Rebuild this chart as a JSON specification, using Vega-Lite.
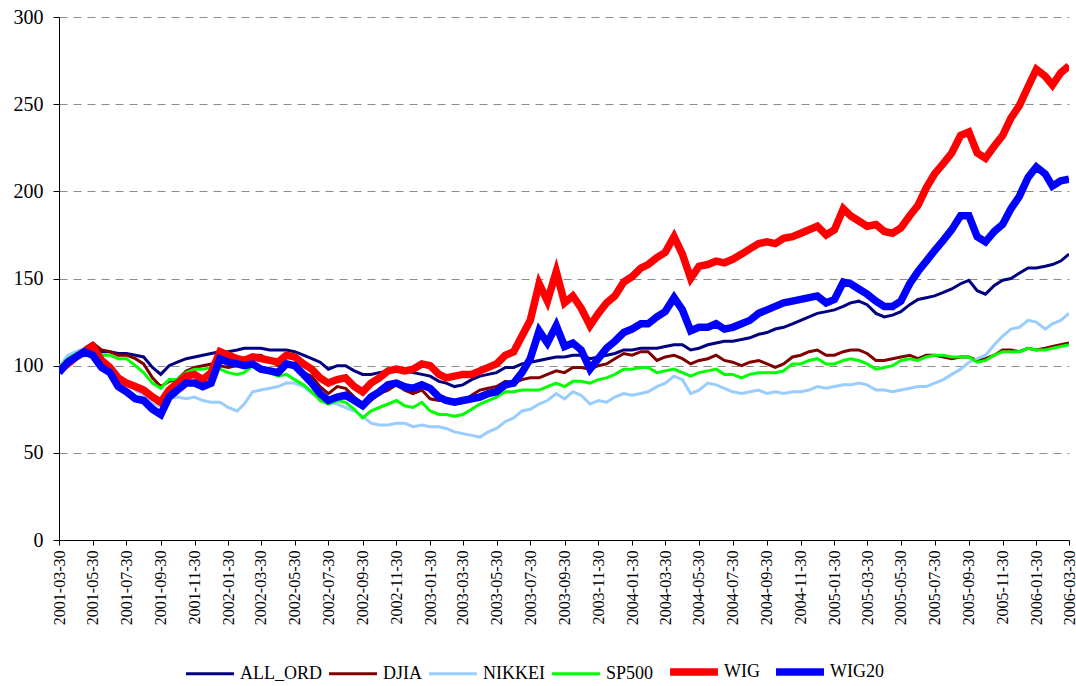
{
  "$schema": "https://vega.github.io/schema/vega-lite/v6.json",
  "width": 1010,
  "height": 523,
  "autosize": {"type": "none"},
  "padding": {"left": 59, "top": 17, "right": 7, "bottom": 146},
  "background": "white",
  "config": {
    "view": {"stroke": null},
    "font": "Liberation Serif, Times New Roman, serif"
  },
  "data": {
    "values": [
      {"date":"2001-03-30","ALL_ORD":99,"DJIA":99,"NIKKEI":99,"SP500":99,"WIG":97,"WIG20":96},
      {"date":"2001-04-15","ALL_ORD":104,"DJIA":104,"NIKKEI":106,"SP500":104,"WIG":101,"WIG20":102},
      {"date":"2001-04-30","ALL_ORD":107,"DJIA":106,"NIKKEI":108,"SP500":107,"WIG":105,"WIG20":105},
      {"date":"2001-05-15","ALL_ORD":109,"DJIA":110,"NIKKEI":110,"SP500":109,"WIG":108,"WIG20":108},
      {"date":"2001-05-30","ALL_ORD":110,"DJIA":113,"NIKKEI":106,"SP500":111,"WIG":111,"WIG20":106},
      {"date":"2001-06-15","ALL_ORD":108,"DJIA":109,"NIKKEI":103,"SP500":106,"WIG":103,"WIG20":99},
      {"date":"2001-06-30","ALL_ORD":108,"DJIA":108,"NIKKEI":99,"SP500":106,"WIG":99,"WIG20":96},
      {"date":"2001-07-15","ALL_ORD":107,"DJIA":106,"NIKKEI":92,"SP500":104,"WIG":93,"WIG20":88},
      {"date":"2001-07-30","ALL_ORD":107,"DJIA":106,"NIKKEI":91,"SP500":104,"WIG":90,"WIG20":85},
      {"date":"2001-08-15","ALL_ORD":106,"DJIA":104,"NIKKEI":86,"SP500":100,"WIG":88,"WIG20":81},
      {"date":"2001-08-30","ALL_ORD":105,"DJIA":101,"NIKKEI":83,"SP500":96,"WIG":86,"WIG20":80},
      {"date":"2001-09-15","ALL_ORD":99,"DJIA":93,"NIKKEI":78,"SP500":90,"WIG":82,"WIG20":75},
      {"date":"2001-09-30","ALL_ORD":95,"DJIA":88,"NIKKEI":77,"SP500":87,"WIG":79,"WIG20":72},
      {"date":"2001-10-15","ALL_ORD":100,"DJIA":91,"NIKKEI":81,"SP500":92,"WIG":86,"WIG20":82},
      {"date":"2001-10-30","ALL_ORD":102,"DJIA":92,"NIKKEI":82,"SP500":92,"WIG":90,"WIG20":86},
      {"date":"2001-11-15","ALL_ORD":104,"DJIA":97,"NIKKEI":81,"SP500":96,"WIG":94,"WIG20":90},
      {"date":"2001-11-30","ALL_ORD":105,"DJIA":99,"NIKKEI":82,"SP500":98,"WIG":95,"WIG20":90},
      {"date":"2001-12-15","ALL_ORD":106,"DJIA":100,"NIKKEI":80,"SP500":98,"WIG":92,"WIG20":88},
      {"date":"2001-12-30","ALL_ORD":107,"DJIA":101,"NIKKEI":79,"SP500":99,"WIG":96,"WIG20":90},
      {"date":"2002-01-15","ALL_ORD":108,"DJIA":100,"NIKKEI":79,"SP500":98,"WIG":108,"WIG20":104},
      {"date":"2002-01-30","ALL_ORD":108,"DJIA":99,"NIKKEI":76,"SP500":96,"WIG":106,"WIG20":102},
      {"date":"2002-02-15","ALL_ORD":109,"DJIA":100,"NIKKEI":74,"SP500":95,"WIG":104,"WIG20":101},
      {"date":"2002-02-28","ALL_ORD":110,"DJIA":102,"NIKKEI":78,"SP500":96,"WIG":103,"WIG20":100},
      {"date":"2002-03-15","ALL_ORD":110,"DJIA":106,"NIKKEI":85,"SP500":100,"WIG":105,"WIG20":101},
      {"date":"2002-03-30","ALL_ORD":110,"DJIA":106,"NIKKEI":86,"SP500":99,"WIG":104,"WIG20":98},
      {"date":"2002-04-15","ALL_ORD":109,"DJIA":103,"NIKKEI":87,"SP500":96,"WIG":103,"WIG20":97},
      {"date":"2002-04-30","ALL_ORD":109,"DJIA":100,"NIKKEI":88,"SP500":94,"WIG":102,"WIG20":96},
      {"date":"2002-05-15","ALL_ORD":109,"DJIA":102,"NIKKEI":90,"SP500":95,"WIG":106,"WIG20":101},
      {"date":"2002-05-30","ALL_ORD":108,"DJIA":100,"NIKKEI":90,"SP500":92,"WIG":105,"WIG20":100},
      {"date":"2002-06-15","ALL_ORD":106,"DJIA":96,"NIKKEI":88,"SP500":89,"WIG":101,"WIG20":95},
      {"date":"2002-06-30","ALL_ORD":104,"DJIA":94,"NIKKEI":84,"SP500":85,"WIG":98,"WIG20":90},
      {"date":"2002-07-15","ALL_ORD":102,"DJIA":88,"NIKKEI":82,"SP500":80,"WIG":93,"WIG20":84},
      {"date":"2002-07-30","ALL_ORD":98,"DJIA":84,"NIKKEI":79,"SP500":78,"WIG":90,"WIG20":80},
      {"date":"2002-08-15","ALL_ORD":100,"DJIA":88,"NIKKEI":78,"SP500":80,"WIG":92,"WIG20":82},
      {"date":"2002-08-30","ALL_ORD":100,"DJIA":87,"NIKKEI":76,"SP500":79,"WIG":93,"WIG20":83},
      {"date":"2002-09-15","ALL_ORD":97,"DJIA":82,"NIKKEI":74,"SP500":75,"WIG":88,"WIG20":80},
      {"date":"2002-09-30","ALL_ORD":95,"DJIA":78,"NIKKEI":71,"SP500":70,"WIG":85,"WIG20":77},
      {"date":"2002-10-15","ALL_ORD":95,"DJIA":80,"NIKKEI":67,"SP500":74,"WIG":90,"WIG20":82},
      {"date":"2002-10-30","ALL_ORD":96,"DJIA":84,"NIKKEI":66,"SP500":76,"WIG":93,"WIG20":85},
      {"date":"2002-11-15","ALL_ORD":97,"DJIA":86,"NIKKEI":66,"SP500":78,"WIG":97,"WIG20":89},
      {"date":"2002-11-30","ALL_ORD":99,"DJIA":89,"NIKKEI":67,"SP500":80,"WIG":98,"WIG20":90},
      {"date":"2002-12-15","ALL_ORD":97,"DJIA":86,"NIKKEI":67,"SP500":77,"WIG":97,"WIG20":88},
      {"date":"2002-12-30","ALL_ORD":96,"DJIA":84,"NIKKEI":65,"SP500":76,"WIG":98,"WIG20":87},
      {"date":"2003-01-15","ALL_ORD":95,"DJIA":86,"NIKKEI":66,"SP500":79,"WIG":101,"WIG20":89},
      {"date":"2003-01-30","ALL_ORD":94,"DJIA":81,"NIKKEI":65,"SP500":74,"WIG":100,"WIG20":87},
      {"date":"2003-02-15","ALL_ORD":91,"DJIA":80,"NIKKEI":65,"SP500":72,"WIG":95,"WIG20":82},
      {"date":"2003-02-28","ALL_ORD":90,"DJIA":80,"NIKKEI":64,"SP500":72,"WIG":93,"WIG20":80},
      {"date":"2003-03-15","ALL_ORD":88,"DJIA":78,"NIKKEI":62,"SP500":71,"WIG":94,"WIG20":79},
      {"date":"2003-03-30","ALL_ORD":89,"DJIA":79,"NIKKEI":61,"SP500":72,"WIG":95,"WIG20":80},
      {"date":"2003-04-15","ALL_ORD":92,"DJIA":83,"NIKKEI":60,"SP500":75,"WIG":95,"WIG20":81},
      {"date":"2003-04-30","ALL_ORD":94,"DJIA":86,"NIKKEI":59,"SP500":78,"WIG":97,"WIG20":82},
      {"date":"2003-05-15","ALL_ORD":95,"DJIA":87,"NIKKEI":62,"SP500":80,"WIG":99,"WIG20":84},
      {"date":"2003-05-30","ALL_ORD":96,"DJIA":88,"NIKKEI":64,"SP500":82,"WIG":101,"WIG20":85},
      {"date":"2003-06-15","ALL_ORD":99,"DJIA":91,"NIKKEI":68,"SP500":85,"WIG":106,"WIG20":89},
      {"date":"2003-06-30","ALL_ORD":99,"DJIA":90,"NIKKEI":70,"SP500":85,"WIG":108,"WIG20":90},
      {"date":"2003-07-15","ALL_ORD":101,"DJIA":92,"NIKKEI":74,"SP500":86,"WIG":117,"WIG20":96},
      {"date":"2003-07-30","ALL_ORD":102,"DJIA":93,"NIKKEI":75,"SP500":86,"WIG":126,"WIG20":104},
      {"date":"2003-08-15","ALL_ORD":103,"DJIA":93,"NIKKEI":78,"SP500":86,"WIG":147,"WIG20":120},
      {"date":"2003-08-30","ALL_ORD":104,"DJIA":95,"NIKKEI":80,"SP500":88,"WIG":137,"WIG20":113},
      {"date":"2003-09-15","ALL_ORD":105,"DJIA":97,"NIKKEI":84,"SP500":90,"WIG":154,"WIG20":123},
      {"date":"2003-09-30","ALL_ORD":105,"DJIA":96,"NIKKEI":81,"SP500":88,"WIG":136,"WIG20":111},
      {"date":"2003-10-15","ALL_ORD":106,"DJIA":99,"NIKKEI":85,"SP500":91,"WIG":140,"WIG20":113},
      {"date":"2003-10-30","ALL_ORD":106,"DJIA":99,"NIKKEI":83,"SP500":91,"WIG":133,"WIG20":109},
      {"date":"2003-11-15","ALL_ORD":104,"DJIA":98,"NIKKEI":78,"SP500":90,"WIG":123,"WIG20":98},
      {"date":"2003-11-30","ALL_ORD":105,"DJIA":100,"NIKKEI":80,"SP500":92,"WIG":130,"WIG20":104},
      {"date":"2003-12-15","ALL_ORD":106,"DJIA":101,"NIKKEI":79,"SP500":93,"WIG":136,"WIG20":110},
      {"date":"2003-12-30","ALL_ORD":107,"DJIA":104,"NIKKEI":82,"SP500":95,"WIG":140,"WIG20":114},
      {"date":"2004-01-15","ALL_ORD":109,"DJIA":107,"NIKKEI":84,"SP500":98,"WIG":148,"WIG20":119},
      {"date":"2004-01-30","ALL_ORD":109,"DJIA":106,"NIKKEI":83,"SP500":98,"WIG":151,"WIG20":121},
      {"date":"2004-02-15","ALL_ORD":110,"DJIA":108,"NIKKEI":84,"SP500":99,"WIG":156,"WIG20":124},
      {"date":"2004-02-28","ALL_ORD":110,"DJIA":108,"NIKKEI":85,"SP500":99,"WIG":158,"WIG20":124},
      {"date":"2004-03-15","ALL_ORD":110,"DJIA":103,"NIKKEI":88,"SP500":96,"WIG":162,"WIG20":128},
      {"date":"2004-03-30","ALL_ORD":111,"DJIA":105,"NIKKEI":90,"SP500":97,"WIG":165,"WIG20":131},
      {"date":"2004-04-15","ALL_ORD":112,"DJIA":106,"NIKKEI":94,"SP500":98,"WIG":174,"WIG20":139},
      {"date":"2004-04-30","ALL_ORD":112,"DJIA":104,"NIKKEI":92,"SP500":96,"WIG":164,"WIG20":132},
      {"date":"2004-05-15","ALL_ORD":109,"DJIA":101,"NIKKEI":84,"SP500":94,"WIG":150,"WIG20":120},
      {"date":"2004-05-30","ALL_ORD":110,"DJIA":103,"NIKKEI":86,"SP500":96,"WIG":157,"WIG20":122},
      {"date":"2004-06-15","ALL_ORD":112,"DJIA":104,"NIKKEI":90,"SP500":97,"WIG":158,"WIG20":122},
      {"date":"2004-06-30","ALL_ORD":113,"DJIA":106,"NIKKEI":89,"SP500":98,"WIG":160,"WIG20":124},
      {"date":"2004-07-15","ALL_ORD":114,"DJIA":103,"NIKKEI":87,"SP500":95,"WIG":159,"WIG20":121},
      {"date":"2004-07-30","ALL_ORD":114,"DJIA":102,"NIKKEI":85,"SP500":95,"WIG":161,"WIG20":122},
      {"date":"2004-08-15","ALL_ORD":115,"DJIA":100,"NIKKEI":84,"SP500":93,"WIG":164,"WIG20":124},
      {"date":"2004-08-30","ALL_ORD":116,"DJIA":102,"NIKKEI":85,"SP500":95,"WIG":167,"WIG20":126},
      {"date":"2004-09-15","ALL_ORD":118,"DJIA":103,"NIKKEI":86,"SP500":96,"WIG":170,"WIG20":130},
      {"date":"2004-09-30","ALL_ORD":119,"DJIA":101,"NIKKEI":84,"SP500":96,"WIG":171,"WIG20":132},
      {"date":"2004-10-15","ALL_ORD":121,"DJIA":99,"NIKKEI":85,"SP500":96,"WIG":170,"WIG20":134},
      {"date":"2004-10-30","ALL_ORD":122,"DJIA":101,"NIKKEI":84,"SP500":97,"WIG":173,"WIG20":136},
      {"date":"2004-11-15","ALL_ORD":124,"DJIA":105,"NIKKEI":85,"SP500":101,"WIG":174,"WIG20":137},
      {"date":"2004-11-30","ALL_ORD":126,"DJIA":106,"NIKKEI":85,"SP500":101,"WIG":176,"WIG20":138},
      {"date":"2004-12-15","ALL_ORD":128,"DJIA":108,"NIKKEI":86,"SP500":103,"WIG":178,"WIG20":139},
      {"date":"2004-12-30","ALL_ORD":130,"DJIA":109,"NIKKEI":88,"SP500":104,"WIG":180,"WIG20":140},
      {"date":"2005-01-15","ALL_ORD":131,"DJIA":106,"NIKKEI":87,"SP500":101,"WIG":175,"WIG20":136},
      {"date":"2005-01-30","ALL_ORD":132,"DJIA":106,"NIKKEI":88,"SP500":101,"WIG":178,"WIG20":138},
      {"date":"2005-02-15","ALL_ORD":134,"DJIA":108,"NIKKEI":89,"SP500":103,"WIG":190,"WIG20":148},
      {"date":"2005-02-28","ALL_ORD":136,"DJIA":109,"NIKKEI":89,"SP500":104,"WIG":186,"WIG20":147},
      {"date":"2005-03-15","ALL_ORD":137,"DJIA":109,"NIKKEI":90,"SP500":103,"WIG":183,"WIG20":144},
      {"date":"2005-03-30","ALL_ORD":135,"DJIA":107,"NIKKEI":89,"SP500":101,"WIG":180,"WIG20":141},
      {"date":"2005-04-15","ALL_ORD":130,"DJIA":103,"NIKKEI":86,"SP500":98,"WIG":181,"WIG20":137},
      {"date":"2005-04-30","ALL_ORD":128,"DJIA":103,"NIKKEI":86,"SP500":99,"WIG":177,"WIG20":134},
      {"date":"2005-05-15","ALL_ORD":129,"DJIA":104,"NIKKEI":85,"SP500":100,"WIG":176,"WIG20":134},
      {"date":"2005-05-30","ALL_ORD":131,"DJIA":105,"NIKKEI":86,"SP500":103,"WIG":179,"WIG20":137},
      {"date":"2005-06-15","ALL_ORD":135,"DJIA":106,"NIKKEI":87,"SP500":104,"WIG":186,"WIG20":147},
      {"date":"2005-06-30","ALL_ORD":138,"DJIA":104,"NIKKEI":88,"SP500":103,"WIG":192,"WIG20":154},
      {"date":"2005-07-15","ALL_ORD":139,"DJIA":106,"NIKKEI":88,"SP500":105,"WIG":202,"WIG20":160},
      {"date":"2005-07-30","ALL_ORD":140,"DJIA":106,"NIKKEI":90,"SP500":106,"WIG":210,"WIG20":166},
      {"date":"2005-08-15","ALL_ORD":142,"DJIA":105,"NIKKEI":92,"SP500":106,"WIG":216,"WIG20":172},
      {"date":"2005-08-30","ALL_ORD":144,"DJIA":104,"NIKKEI":95,"SP500":105,"WIG":222,"WIG20":178},
      {"date":"2005-09-15","ALL_ORD":147,"DJIA":105,"NIKKEI":98,"SP500":105,"WIG":232,"WIG20":186},
      {"date":"2005-09-30","ALL_ORD":149,"DJIA":105,"NIKKEI":102,"SP500":105,"WIG":234,"WIG20":186},
      {"date":"2005-10-15","ALL_ORD":143,"DJIA":103,"NIKKEI":104,"SP500":102,"WIG":222,"WIG20":174},
      {"date":"2005-10-30","ALL_ORD":141,"DJIA":104,"NIKKEI":106,"SP500":103,"WIG":219,"WIG20":171},
      {"date":"2005-11-15","ALL_ORD":146,"DJIA":106,"NIKKEI":112,"SP500":106,"WIG":226,"WIG20":177},
      {"date":"2005-11-30","ALL_ORD":149,"DJIA":109,"NIKKEI":117,"SP500":108,"WIG":232,"WIG20":181},
      {"date":"2005-12-15","ALL_ORD":150,"DJIA":109,"NIKKEI":121,"SP500":108,"WIG":242,"WIG20":190},
      {"date":"2005-12-30","ALL_ORD":153,"DJIA":108,"NIKKEI":122,"SP500":108,"WIG":249,"WIG20":197},
      {"date":"2006-01-15","ALL_ORD":156,"DJIA":110,"NIKKEI":126,"SP500":110,"WIG":260,"WIG20":208},
      {"date":"2006-01-30","ALL_ORD":156,"DJIA":109,"NIKKEI":125,"SP500":109,"WIG":270,"WIG20":214},
      {"date":"2006-02-15","ALL_ORD":157,"DJIA":110,"NIKKEI":121,"SP500":109,"WIG":266,"WIG20":210},
      {"date":"2006-02-28","ALL_ORD":158,"DJIA":111,"NIKKEI":124,"SP500":110,"WIG":261,"WIG20":203},
      {"date":"2006-03-15","ALL_ORD":160,"DJIA":112,"NIKKEI":126,"SP500":111,"WIG":268,"WIG20":206},
      {"date":"2006-03-30","ALL_ORD":164,"DJIA":113,"NIKKEI":130,"SP500":112,"WIG":272,"WIG20":207}
    ]
  },
  "transform": [
    {"fold": ["ALL_ORD", "DJIA", "NIKKEI", "SP500", "WIG", "WIG20"], "as": ["series", "value"]}
  ],
  "mark": {"type": "line", "strokeJoin": "miter", "clip": true},
  "encoding": {
    "x": {
      "field": "date",
      "type": "temporal",
      "scale": {
        "type": "utc",
        "nice": false,
        "domain": [
          {"year": 2001, "month": 3, "date": 30, "utc": true},
          {"year": 2006, "month": 3, "date": 30, "utc": true}
        ]
      },
      "axis": {
        "title": null,
        "grid": false,
        "format": "%Y-%m-%d",
        "labelAngle": -90,
        "labelFont": "Liberation Serif, Times New Roman, serif",
        "labelFontSize": 16,
        "labelColor": "black",
        "labelPadding": 5,
        "labelOverlap": false,
        "labelFlush": false,
        "tickSize": 5,
        "tickColor": "black",
        "domainColor": "black",
        "values": [
          {"year": 2001, "month": 3, "date": 30, "utc": true},
          {"year": 2001, "month": 5, "date": 30, "utc": true},
          {"year": 2001, "month": 7, "date": 30, "utc": true},
          {"year": 2001, "month": 9, "date": 30, "utc": true},
          {"year": 2001, "month": 11, "date": 30, "utc": true},
          {"year": 2002, "month": 1, "date": 30, "utc": true},
          {"year": 2002, "month": 3, "date": 30, "utc": true},
          {"year": 2002, "month": 5, "date": 30, "utc": true},
          {"year": 2002, "month": 7, "date": 30, "utc": true},
          {"year": 2002, "month": 9, "date": 30, "utc": true},
          {"year": 2002, "month": 11, "date": 30, "utc": true},
          {"year": 2003, "month": 1, "date": 30, "utc": true},
          {"year": 2003, "month": 3, "date": 30, "utc": true},
          {"year": 2003, "month": 5, "date": 30, "utc": true},
          {"year": 2003, "month": 7, "date": 30, "utc": true},
          {"year": 2003, "month": 9, "date": 30, "utc": true},
          {"year": 2003, "month": 11, "date": 30, "utc": true},
          {"year": 2004, "month": 1, "date": 30, "utc": true},
          {"year": 2004, "month": 3, "date": 30, "utc": true},
          {"year": 2004, "month": 5, "date": 30, "utc": true},
          {"year": 2004, "month": 7, "date": 30, "utc": true},
          {"year": 2004, "month": 9, "date": 30, "utc": true},
          {"year": 2004, "month": 11, "date": 30, "utc": true},
          {"year": 2005, "month": 1, "date": 30, "utc": true},
          {"year": 2005, "month": 3, "date": 30, "utc": true},
          {"year": 2005, "month": 5, "date": 30, "utc": true},
          {"year": 2005, "month": 7, "date": 30, "utc": true},
          {"year": 2005, "month": 9, "date": 30, "utc": true},
          {"year": 2005, "month": 11, "date": 30, "utc": true},
          {"year": 2006, "month": 1, "date": 30, "utc": true},
          {"year": 2006, "month": 3, "date": 30, "utc": true}
        ]
      }
    },
    "y": {
      "field": "value",
      "type": "quantitative",
      "scale": {"domain": [0, 300], "nice": false, "zero": true},
      "axis": {
        "title": null,
        "values": [0, 50, 100, 150, 200, 250, 300],
        "grid": true,
        "gridColor": "#8c8c8c",
        "gridDash": [8, 6],
        "gridWidth": 1,
        "labelFont": "Liberation Serif, Times New Roman, serif",
        "labelFontSize": 20,
        "labelColor": "black",
        "labelPadding": 10,
        "tickSize": 6,
        "tickColor": "black",
        "domainColor": "black"
      }
    },
    "color": {
      "field": "series",
      "type": "nominal",
      "scale": {
        "domain": ["ALL_ORD", "DJIA", "NIKKEI", "SP500", "WIG", "WIG20"],
        "range": ["#000080", "#800000", "#99ccff", "#00ff00", "#ff0000", "#0000ff"]
      },
      "legend": {
        "title": null,
        "orient": "none",
        "legendX": 123,
        "legendY": 627,
        "direction": "horizontal",
        "columns": 6,
        "symbolType": "stroke",
        "symbolSize": 2300,
        "labelFont": "Liberation Serif, Times New Roman, serif",
        "labelFontSize": 18,
        "labelColor": "black",
        "labelOffset": 2,
        "columnPadding": 1
      }
    },
    "strokeWidth": {
      "field": "series",
      "type": "nominal",
      "scale": {
        "type": "ordinal",
        "domain": ["ALL_ORD", "DJIA", "NIKKEI", "SP500", "WIG", "WIG20"],
        "range": [3, 3, 3, 3, 7.5, 7.5]
      },
      "legend": {
        "title": null,
        "orient": "none",
        "legendX": 123,
        "legendY": 627,
        "direction": "horizontal",
        "columns": 6,
        "symbolType": "stroke",
        "symbolSize": 2300,
        "labelFont": "Liberation Serif, Times New Roman, serif",
        "labelFontSize": 18,
        "labelColor": "black",
        "labelOffset": 2,
        "columnPadding": 1
      }
    }
  }
}
